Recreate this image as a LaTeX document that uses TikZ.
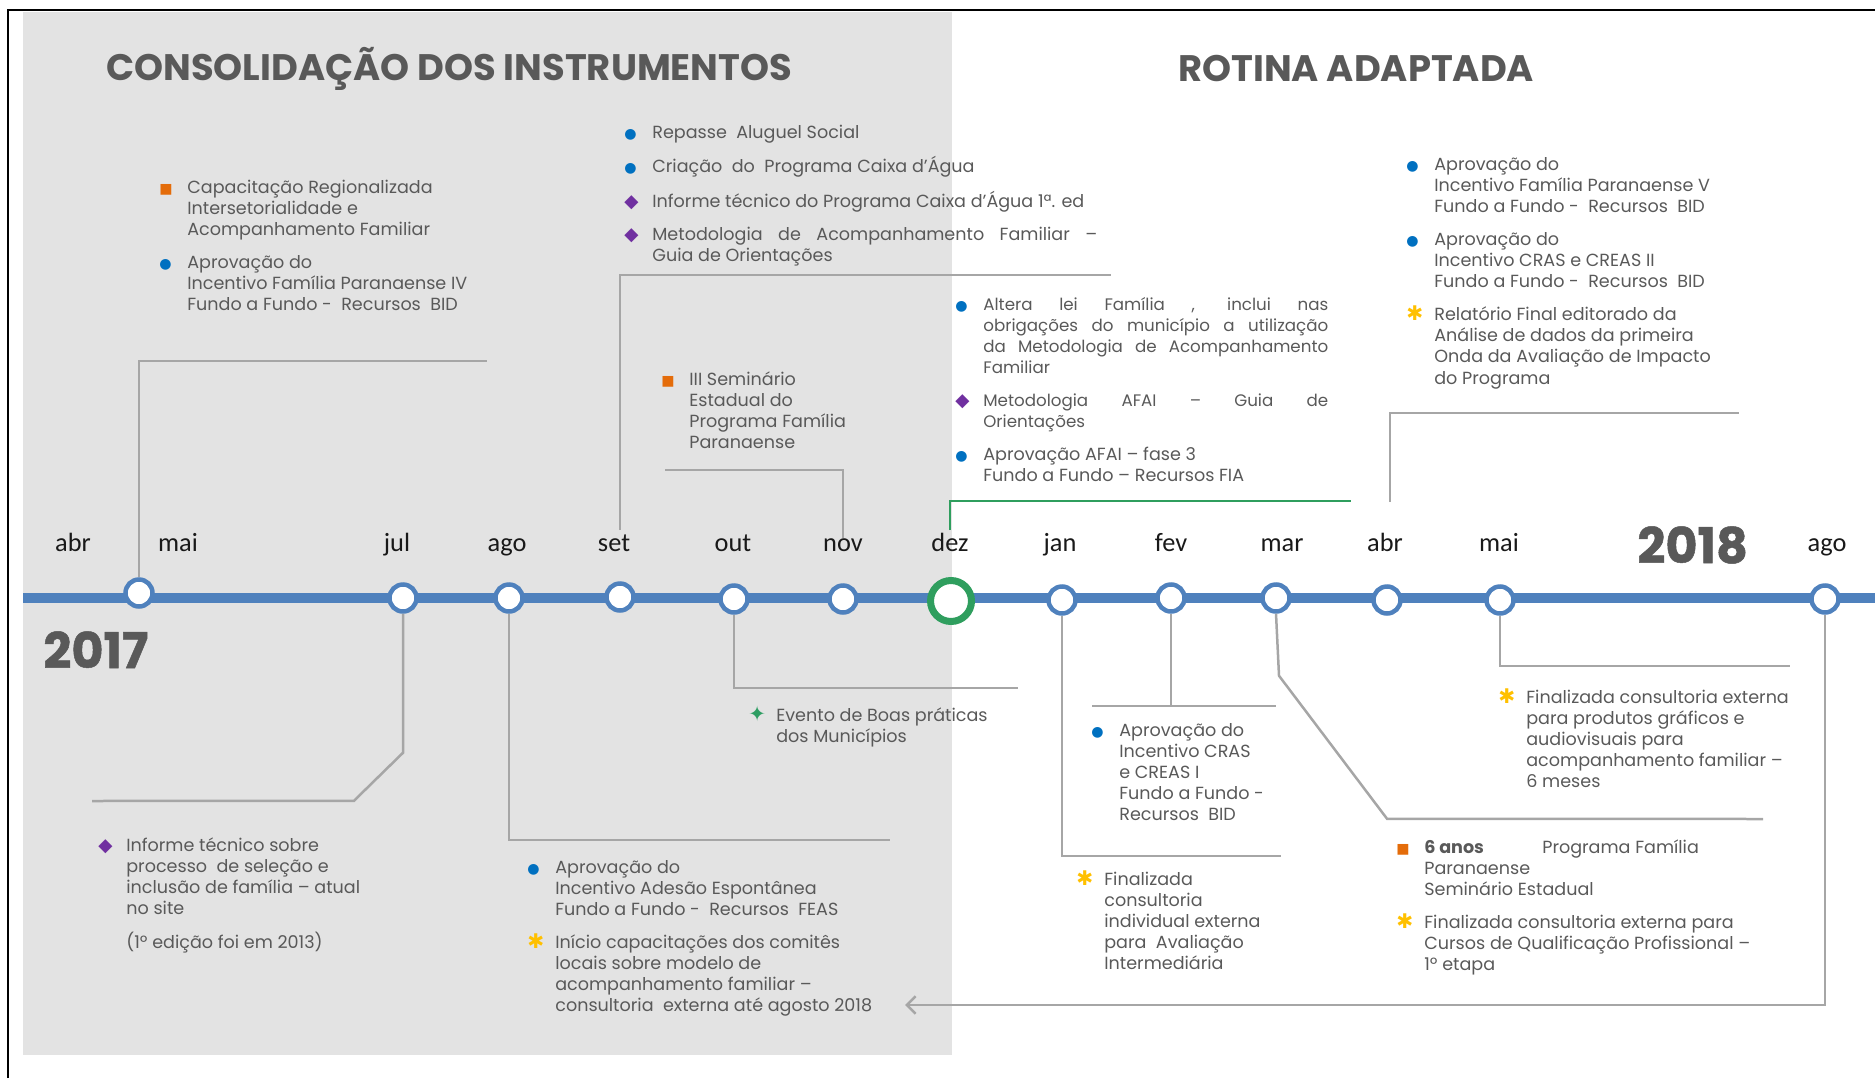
\documentclass[tikz,border=0pt]{standalone}
\usepackage{fontspec}
\setmainfont{Poppins}
\newfontfamily\monthfont{Carlito}
\newfontfamily\symfont{DejaVu Sans}
\usetikzlibrary{positioning,arrows.meta,shadows}

\definecolor{tlblue}{HTML}{4F81BD}
\definecolor{bggray}{HTML}{E3E3E3}
\definecolor{lngray}{HTML}{A6A6A6}
\definecolor{txtgray}{HTML}{595959}
\definecolor{dezgreen}{HTML}{2F9E5E}
\definecolor{mkorange}{HTML}{E46C0A}
\definecolor{mkblue}{HTML}{0070C0}
\definecolor{mkpurple}{HTML}{7030A0}
\definecolor{mkyellow}{HTML}{FFC000}
\definecolor{mkgreen}{HTML}{2E9E63}

% marcadores dos itens
\newcommand{\mksq}{\textcolor{mkorange}{\symfont\fontsize{8}{8}\selectfont ■}}
\newcommand{\mkdot}{\textcolor{mkblue}{\symfont\fontsize{8}{8}\selectfont ●}}
\newcommand{\mkdia}{\textcolor{mkpurple}{\symfont\fontsize{10.5}{10}\selectfont ◆}}
\newcommand{\mkstar}{\textcolor{mkyellow}{\symfont\fontsize{11.5}{10}\selectfont ✱}}
\newcommand{\mkfour}{\textcolor{mkgreen}{\symfont\fontsize{12}{10}\selectfont ✦}}
\newcommand{\itm}[2]{\makebox[0.56cm][l]{\smash{#1}}\begin{tabular}[t]{@{}l@{}}#2\end{tabular}}
\newcommand{\jl}[2]{\makebox[#1][s]{#2}}

\begin{document}
\begin{tikzpicture}[x=0.02cm,y=-0.02cm,node distance=6.5pt,
  tl/.style={tlblue,line width=0.2cm},
  tlnode/.style={circle,draw=tlblue,fill=white,line width=0.09cm,minimum size=0.54cm,inner sep=0pt,
                 drop shadow={opacity=0.35,shadow xshift=0.6pt,shadow yshift=-0.8pt}},
  deznode/.style={circle,draw=dezgreen,fill=white,line width=0.14cm,minimum size=0.82cm,inner sep=0pt},
  conn/.style={lngray,line width=0.05cm},
  conng/.style={dezgreen,line width=0.05cm},
  mon/.style={anchor=base,inner sep=0pt,text=black!90,font=\monthfont\fontsize{15}{15}\selectfont},
  item/.style={anchor=base west,inner sep=0pt,text=txtgray,font=\fontsize{10}{12}\selectfont},
  title/.style={anchor=base west,inner sep=0pt,text=txtgray,font=\fontsize{21}{21}\selectfont\bfseries},
  year/.style={anchor=base west,inner sep=0pt,text=txtgray,font=\fontsize{28}{28}\selectfont\bfseries\addfontfeature{FakeBold=1}}
]
\useasboundingbox (0,0) rectangle (1875,1078);
\fill[bggray] (23,12) rectangle (952,1055);
\draw[line width=0.04cm] (8,1078) -- (8,10) -- (1875,10);

\node[title] (consol) at (106,81) {CONSOLIDAÇÃO DOS INSTRUMENTOS};
\node[title] (rotina) at (1178,82) {ROTINA ADAPTADA};
\node[year] (y2017) at (43,668) {2017};
\node[year] (y2018) at (1637,563) {2018};

% linha do tempo
\coordinate (tlstart) at (23,598);
\coordinate (tlend) at (1875,598);
\draw[tl] (tlstart) -- (tlend);

\foreach \nm/\lx/\txt in {labr17/73/abr, lmai17/178/mai, ljul/397/jul, lago17/507/ago, lset/614/set,
    lout/733/out, lnov/843/nov, ldez/950/dez, ljan/1060/jan, lfev/1171/fev, lmar/1282/mar,
    labr18/1385/abr, lmai18/1499/mai, lago18/1827/ago}
  \node[mon] (\nm) at (\lx,551) {\txt};

\foreach \nm/\cx/\cy in {mai17/139/593, jul/403/598, ago17/509/598, set/620/597, out/734/599,
    nov/843/599, jan/1062/600, fev/1171/598, mar/1276/598, abr18/1387/600, mai18/1500/600, ago18/1825/599}
  \node[tlnode] (\nm) at (\cx,\cy) {};
\node[deznode] (dez) at (951,601) {};

% conectores acima
\coordinate (capend) at (487,361);
\coordinate (settop) at (620,530);
\coordinate (metend) at (1111,275);
\coordinate (novtop) at (843,538);
\coordinate (semend) at (665,470);
\coordinate (deztop) at (950,530);
\coordinate (altend) at (1351,501);
\coordinate (abrtop) at (1390,502);
\coordinate (relend) at (1739,413);
\draw[conn] (mai17.north) |- (capend);
\draw[conn] (settop) |- (metend);
\draw[conn] (novtop) |- (semend);
\draw[conng] (deztop) |- (altend);
\draw[conn] (abrtop) |- (relend);

% conectores abaixo
\coordinate (julend) at (92,801);
\coordinate (feasend) at (890,840);
\coordinate (boasend) at (1018,688);
\coordinate (intend) at (1281,856);
\coordinate (crasl) at (1092,706);
\coordinate (crasr) at (1276,706);
\coordinate (anosend) at (1763,819);
\coordinate (grafend) at (1790,666);
\coordinate (arrend) at (905,1005);
\draw[conn] (jul.south) -- ++(0,139) -- ++(-49,48) -- (julend);
\draw[conn] (ago17.south) |- (feasend);
\draw[conn] (out.south) |- (boasend);
\draw[conn] (jan.south) |- (intend);
\draw[conn] (fev.south) -- (fev.south |- crasl);
\draw[conn] (crasl) -- (crasr);
\draw[conn] (mar.south) -- ++(3,62) -- ++(108,143) -- (anosend);
\draw[conn] (mai18.south) |- (grafend);
\draw[conn,-{Straight Barb[length=5pt,width=10pt]}] (ago18.south) |- (arrend);

% itens - 2017
\node[item] (capreg) at (159,193) {\itm{\mksq}{Capacitação Regionalizada\\Intersetorialidade e\\Acompanhamento Familiar}};
\node[item,below=of capreg.south west,anchor=north west] (aprovIV) {\itm{\mkdot}{Aprovação do\\Incentivo Família Paranaense IV\\Fundo a Fundo -\ \ Recursos\ \ BID}};

\node[item] (aluguel) at (624,138) {\itm{\mkdot}{Repasse\ \ Aluguel Social}};
\node[item,below=of aluguel.south west,anchor=north west] (criacao) {\itm{\mkdot}{Criação\ \ do\ \ Programa Caixa d’Água}};
\node[item,below=of criacao.south west,anchor=north west] (infcaixa) {\itm{\mkdia}{Informe técnico do Programa Caixa d’Água 1ª. ed}};
\node[item,below=of infcaixa.south west,anchor=north west] (metacomp) {\itm{\mkdia}{\jl{8.9cm}{Metodologia de Acompanhamento Familiar –}\\Guia de Orientações}};

\node[item] (seminario) at (661,385) {\itm{\mksq}{III Seminário\\Estadual do\\Programa Família\\Paranaense}};

\node[item,font=\fontsize{9.5}{12}\selectfont] (altera) at (955,310) {\itm{\mkdot}{\jl{6.9cm}{Altera lei Família , inclui nas}\\\jl{6.9cm}{obrigações do município a utilização}\\\jl{6.9cm}{da Metodologia de Acompanhamento}\\Familiar}};
\node[item,font=\fontsize{9.5}{12}\selectfont,below=of altera.south west,anchor=north west] (afai) {\itm{\mkdia}{\jl{6.9cm}{Metodologia AFAI – Guia de}\\Orientações}};
\node[item,below=of afai.south west,anchor=north west] (fia) {\itm{\mkdot}{Aprovação AFAI – fase 3\\Fundo a Fundo – Recursos FIA}};

\node[item] (infsel) at (98,851) {\itm{\mkdia}{Informe técnico sobre\\processo\ \ de seleção e\\inclusão de família – atual\\no site\\[6.5pt](1º edição foi em 2013)}};

\node[item] (feas) at (527,873) {\itm{\mkdot}{Aprovação do\\Incentivo Adesão Espontânea\\Fundo a Fundo -\ \ Recursos\ \ FEAS}};
\node[item,below=of feas.south west,anchor=north west] (comites) {\itm{\mkstar}{Início capacitações dos comitês\\locais sobre modelo de\\acompanhamento familiar –\\consultoria\ \ externa até agosto 2018}};

\node[item] (boas) at (748,721) {\itm{\mkfour}{Evento de Boas práticas\\dos Municípios}};

% itens - 2018
\node[item] (incV) at (1406,170) {\itm{\mkdot}{Aprovação do\\Incentivo Família Paranaense V\\Fundo a Fundo -\ \ Recursos\ \ BID}};
\node[item,below=of incV.south west,anchor=north west] (crasII) {\itm{\mkdot}{Aprovação do\\Incentivo CRAS e CREAS II\\Fundo a Fundo -\ \ Recursos\ \ BID}};
\node[item,below=of crasII.south west,anchor=north west] (relat) {\itm{\mkstar}{Relatório Final editorado da\\Análise de dados da primeira\\Onda da Avaliação de Impacto\\do Programa}};

\node[item] (crasI) at (1091,736) {\itm{\mkdot}{Aprovação do\\Incentivo CRAS\\e CREAS I\\Fundo a Fundo -\\Recursos\ \ BID}};
\node[item] (intermed) at (1076,885) {\itm{\mkstar}{Finalizada\\consultoria\\individual externa\\para\ \ Avaliação\\Intermediária}};

\node[item] (seisanos) at (1396,853) {\itm{\mksq}{\makebox[2.36cm][l]{\bfseries 6 anos}Programa Família\\Paranaense\\Seminário Estadual}};
\node[item,below=of seisanos.south west,anchor=north west] (qualif) {\itm{\mkstar}{Finalizada consultoria externa para\\Cursos de Qualificação Profissional –\\1º etapa}};

\node[item] (graficos) at (1498,703) {\itm{\mkstar}{Finalizada consultoria externa\\para produtos gráficos e\\audiovisuais para\\acompanhamento familiar –\\6 meses}};
\end{tikzpicture}
\end{document}
